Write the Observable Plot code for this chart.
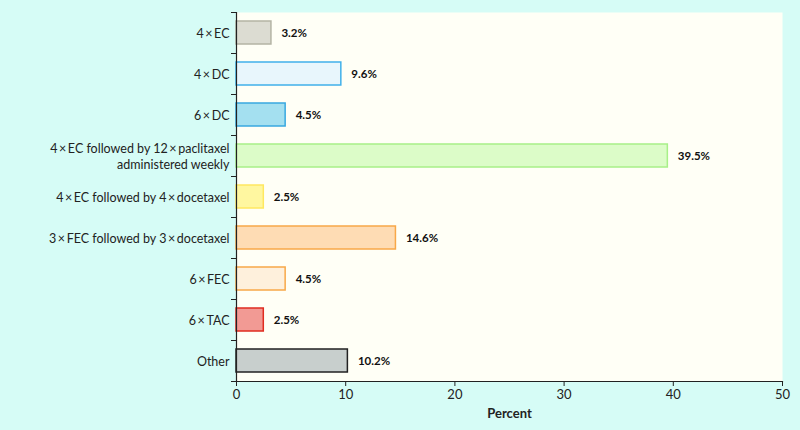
<!DOCTYPE html>
<html>
<head>
<meta charset="utf-8">
<script src="https://cdn.jsdelivr.net/npm/d3@7"></script>
<script src="https://cdn.jsdelivr.net/npm/@observablehq/plot@0.6"></script>
<style>
  html, body { margin: 0; padding: 0; background: #d6fcf6; }
  #chart { width: 800px; height: 430px; }
  g[aria-label="x-axis label"] text { font-weight: bold; font-size: 13px; }
</style>
</head>
<body>
<div id="chart"></div>
<script>
const categories = [
  "4\u2009×\u2009EC",
  "4\u2009×\u2009DC",
  "6\u2009×\u2009DC",
  "4\u2009×\u2009EC followed by 12\u2009×\u2009paclitaxel\nadministered weekly",
  "4\u2009×\u2009EC followed by 4\u2009×\u2009docetaxel",
  "3\u2009×\u2009FEC followed by 3\u2009×\u2009docetaxel",
  "6\u2009×\u2009FEC",
  "6\u2009×\u2009TAC",
  "Other"
];
const values = [3.2, 9.6, 4.5, 39.5, 2.5, 14.6, 4.5, 2.5, 10.2];
const fillColors = ["#dcdcd2", "#e8f6fc", "#a4e0f0", "#dcfcc8", "#fff7a0", "#fedcb4", "#fef0dc", "#f29a94", "#c8cfcd"];
const strokeColors = ["#b4b4a4", "#40b0ea", "#38a8e0", "#a8f088", "#ffe860", "#f8a848", "#f8a848", "#e02c20", "#222222"];
const xTicks = [0, 10, 20, 30, 40, 50];

const data = categories.map((c, i) => ({cat: c, value: values[i]}));

const W = 800, H = 430, mT = 12, mB = 49, mL = 236, mR = 18;
const step = (H - mT - mB) / categories.length;

const chart = Plot.plot({
  width: W,
  height: H,
  marginTop: mT,
  marginBottom: mB,
  marginLeft: mL,
  marginRight: mR,
  style: {fontFamily: "Lato, 'Open Sans', sans-serif", fontSize: "12.5px", color: "#222", background: "transparent"},
  x: {domain: [0, 50], ticks: xTicks, label: "Percent", labelAnchor: "center", labelArrow: "none", labelOffset: 36},
  y: {domain: categories, paddingInner: 0.44, paddingOuter: 0.22, label: null},
  color: {domain: categories, range: fillColors},
  marks: [
    Plot.frame({fill: "#fffff6", stroke: null}),
    Plot.barX(data, {
      x: "value", y: "cat",
      fill: "cat",
      stroke: d => strokeColors[categories.indexOf(d.cat)],
      strokeWidth: 1.5,
      inset: 0
    }),
    Plot.text(data, {
      x: "value", y: "cat",
      text: d => d.value.toFixed(1) + "%",
      dx: 10, textAnchor: "start",
      fontWeight: "bold", fontSize: 11.5, fill: "#111"
    }),
    Plot.frame({anchor: "left", stroke: "#222", strokeWidth: 1.2}),
    Plot.frame({anchor: "bottom", stroke: "#222", strokeWidth: 1.2}),
    Plot.axisY({tickSize: 0, tickPadding: 7, lineHeight: 1.3, fontSize: 12.5, fill: "#222"}),
    Plot.axisY({tickSize: 5, tickFormat: () => "", dy: -step / 2, stroke: "#222"}),
    Plot.axisY({ticks: [categories[categories.length - 1]], tickSize: 5, tickFormat: () => "", dy: step / 2, stroke: "#222"}),
    Plot.axisX({ticks: xTicks, tickSize: 5, tickPadding: 3, fontSize: 13, stroke: "#222", fill: "#222", label: "Percent", labelAnchor: "center", labelArrow: "none", labelOffset: 36})
  ]
});
document.getElementById("chart").appendChild(chart);
</script>
</body>
</html>
